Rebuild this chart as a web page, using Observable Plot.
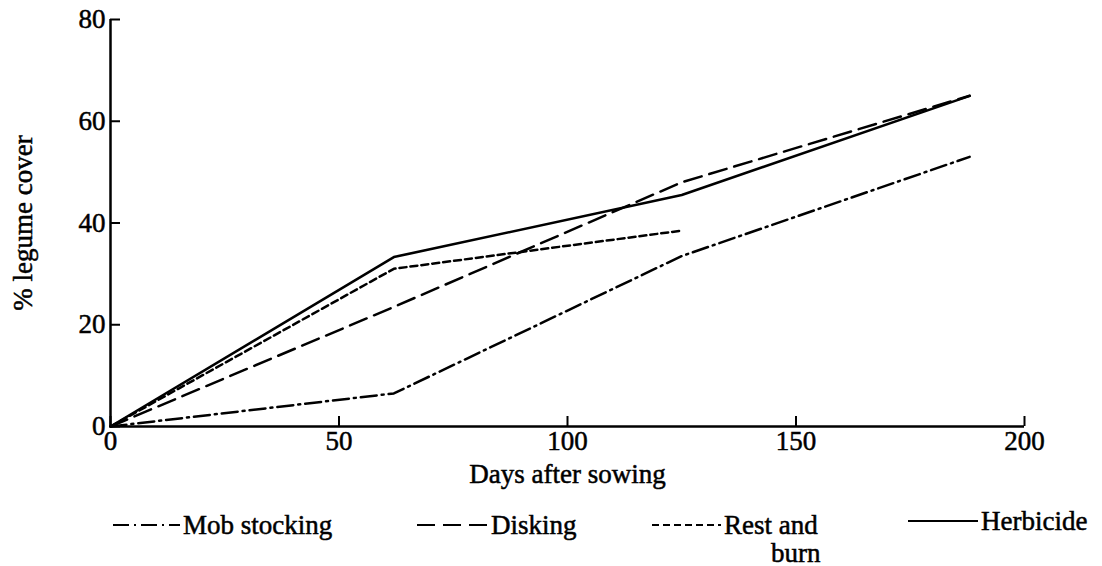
<!DOCTYPE html>
<html><head><meta charset="utf-8">
<script src="https://cdn.jsdelivr.net/npm/d3@7"></script>
<script src="https://cdn.jsdelivr.net/npm/@observablehq/plot@0.6"></script>
<style>
body{margin:0;background:#fff;font-family:"Liberation Serif",serif;color:#000;overflow:hidden}
#legend{position:relative;width:1102px;height:66px}
.item{position:absolute;display:flex;align-items:flex-start;font-size:27px;line-height:28px;-webkit-text-stroke:0.5px #000}
.item svg{margin-top:11px;margin-right:3px}
svg text{paint-order:stroke}
</style>
</head><body><div id="chart"></div><div id="legend"></div>
<script>
const series = ["Mob stocking", "Disking", "Rest and burn", "Herbicide"];
const days = [0, 62, 125, 188];
const mobStocking = [0, 6.5, 33.5, 53];
const disking = [0, 23.5, 48, 65];
const restAndBurn = [0, 31, 38.5];
const herbicide = [0, 33.3, 45.5, 65];
const xTicks = [0, 50, 100, 150, 200];
const yTicks = [0, 20, 40, 60, 80];

const valuesBySeries = [mobStocking, disking, restAndBurn, herbicide];
const dashBySeries = ["16,5,2,5", "18,8", "7,4", null];

const rows = [];
series.forEach((s, i) => valuesBySeries[i].forEach((v, j) => rows.push({series: s, day: days[j], cover: v})));

const marks = [
  Plot.ruleY([0], {strokeWidth: 2.5}),
  Plot.ruleX([0], {strokeWidth: 2.5}),
  Plot.axisX({ticks: xTicks, tickSize: -10, tickPadding: 14, strokeWidth: 2,
    label: "Days after sowing", labelAnchor: "center", labelOffset: 56, labelArrow: "none"}),
  Plot.axisY({ticks: yTicks, tickSize: -10, tickPadding: 15, strokeWidth: 2,
    label: "% legume cover", labelAnchor: "center", labelOffset: 98, labelArrow: "none"})
];
series.forEach((s, i) => {
  marks.push(Plot.line(rows.filter(d => d.series === s), {
    x: "day", y: "cover", stroke: "black", strokeWidth: 2.5,
    strokeDasharray: dashBySeries[i] || undefined
  }));
});

const chart = Plot.plot({
  width: 1102, height: 500,
  marginLeft: 110, marginRight: 78, marginTop: 19, marginBottom: 74,
  style: {fontFamily: "Liberation Serif, serif", fontSize: "27px", color: "#000", background: "#fff", stroke: "none"},
  x: {domain: [0, 200]},
  y: {domain: [0, 80]},
  marks
});
chart.querySelectorAll("text").forEach(t => { t.setAttribute("stroke", "#000"); t.setAttribute("stroke-width", "0.5"); });
document.getElementById("chart").appendChild(chart);

const legendPos = [{left: 113, w: 67}, {left: 417, w: 71}, {left: 652, w: 69}, {left: 908, w: 70}];
const legendLabels = ["Mob stocking", "Disking", "Rest and<br><span style='padding-left:47px'>burn</span>", "Herbicide"];
const legend = document.getElementById("legend");
series.forEach((s, i) => {
  const div = document.createElement("div");
  div.className = "item";
  div.style.left = legendPos[i].left + "px";
  div.style.top = (i === 3 ? 7 : 11) + "px";
  const w = legendPos[i].w;
  div.innerHTML = `<svg width="${w}" height="6"><line x1="0" y1="3" x2="${w}" y2="3" stroke="black" stroke-width="2.2" ${dashBySeries[i] ? `stroke-dasharray="${dashBySeries[i]}"` : ""}/></svg><span>${legendLabels[i]}</span>`;
  legend.appendChild(div);
});
</script>
</body></html>
